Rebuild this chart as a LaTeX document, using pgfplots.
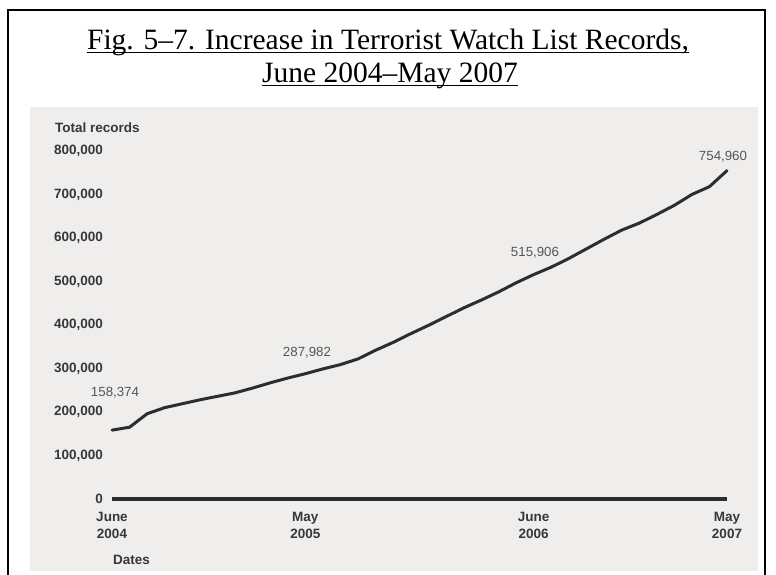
\documentclass[border=0pt]{standalone}
\usepackage{pgfplots}
\pgfplotsset{compat=1.18}
\usepackage{fontspec}
\setmainfont{Liberation Sans}
\newfontfamily\timesf{Liberation Serif}
\definecolor{panel}{RGB}{240,238,236}
\definecolor{ink}{RGB}{45,45,45}
\definecolor{lbl}{RGB}{55,55,55}
\definecolor{dlbl}{RGB}{85,85,85}
\newcommand\ul[1]{\setbox0\hbox{#1}\rlap{\rule[-3.5pt]{\wd0}{1.6pt}}\box0}

\pgfplotstableread{
m v
0 158374
1 165000
2 196000
3 210000
4 219000
5 228000
6 236000
7 244000
8 255000
9 267000
10 278000
11 287982
12 299000
13 309000
14 322000
15 342000
16 360000
17 380000
18 399000
19 419000
20 439000
21 457000
22 476000
23 497000
24 515906
25 533000
26 553000
27 575000
28 597000
29 618000
30 634000
31 654000
32 675000
33 700000
34 718000
35 754960
}\records

\begin{document}
\begin{tikzpicture}[x=1pt,y=1pt]
\useasboundingbox (0,0) rectangle (776,575);
\fill[white] (0,0) rectangle (776,575);
\fill[panel] (30,4) rectangle (758,468);
\draw[line width=2pt] (8,-10) -- (8,564.5) -- (765,564.5) -- (765,-10);
\node[anchor=base, inner sep=0pt] at (388,525) {\timesf\fontsize{29.5}{34}\selectfont\ul{Fig. 5–7. Increase in Terrorist Watch List Records,}};
\node[anchor=base, inner sep=0pt] at (390,492) {\timesf\fontsize{29.5}{34}\selectfont\ul{June 2004–May 2007}};

\begin{axis}[
  at={(112pt,76pt)}, anchor=south west,
  scale only axis, width=615pt, height=348pt,
  xmin=0, xmax=35, ymin=0, ymax=800000,
  clip=false,
  scaled y ticks=false, scaled x ticks=false,
  axis x line=bottom, axis y line=left,
  y axis line style={draw=none},
  x axis line style={line width=3.5pt, draw=ink, -},
  major tick length=0pt,
  tick style={draw=none},
  ytick={0,100000,200000,300000,400000,500000,600000,700000,800000},
  yticklabels={0,{100,000},{200,000},{300,000},{400,000},{500,000},{600,000},{700,000},{800,000}},
  yticklabel style={font=\bfseries\fontsize{13.5}{14}\selectfont, text=lbl, anchor=east, inner sep=0pt, xshift=-9pt},
  xtick={0,11,24,35},
  xticklabels={{June\\2004},{May\\2005},{June\\2006},{May\\2007}},
  xticklabel style={align=center, font=\bfseries\fontsize{13.5}{17}\selectfont, text=lbl, anchor=north, inner sep=0pt, yshift=-13pt},
]
\addplot[ink, line width=3pt, line join=round, line cap=round] table[x=m, y=v] {\records};
\end{axis}

\node[anchor=west, inner sep=0pt, text=lbl, font=\bfseries\fontsize{13.5}{14}\selectfont] at (55,447) {Total records};
\node[anchor=west, inner sep=0pt, text=lbl, font=\bfseries\fontsize{13.5}{14}\selectfont] at (113,15) {Dates};
\begin{scope}[every node/.style={inner sep=0pt, text=dlbl, font=\fontsize{13.3}{14}\selectfont}]
\node at (115,182) {158,374};
\node at (307,222) {287,982};
\node at (535,322) {515,906};
\node at (723,418) {754,960};
\end{scope}
\end{tikzpicture}
\end{document}
